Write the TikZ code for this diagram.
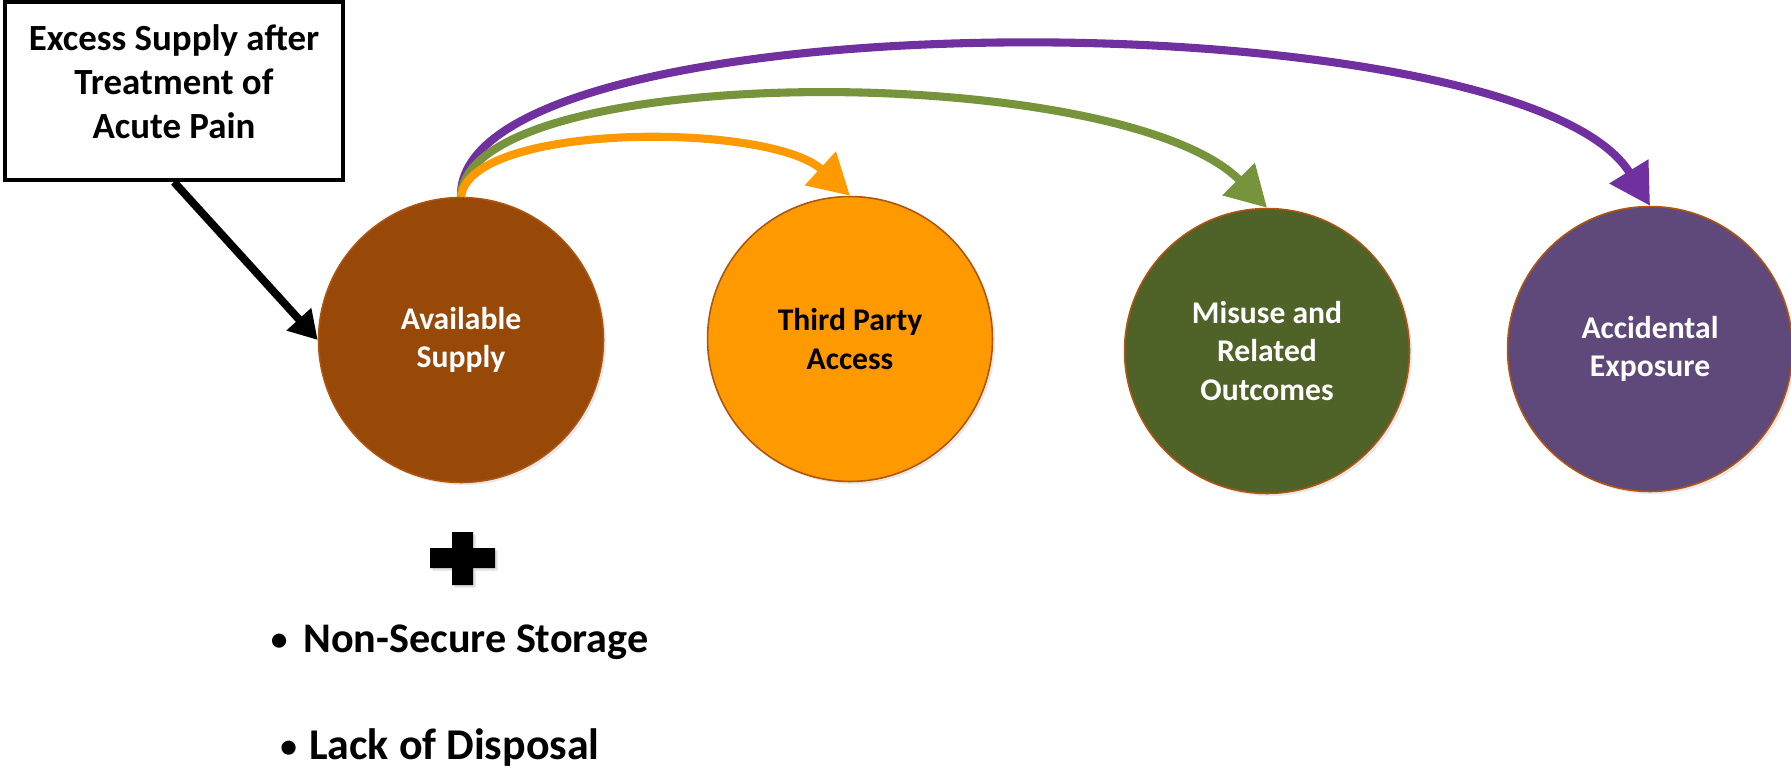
\documentclass[tikz,border=0pt]{standalone}
\usepackage{fontspec}
\setmainfont{Carlito}
\usetikzlibrary{arrows.meta,shadows}
\definecolor{cbrown}{HTML}{984807}
\definecolor{corange}{HTML}{FF9900}
\definecolor{cgreen}{HTML}{4F6228}
\definecolor{cpurple}{HTML}{5F497A}
\definecolor{crim}{RGB}{175,85,15}
\definecolor{aorange}{HTML}{FF9900}
\definecolor{agreen}{HTML}{77933C}
\definecolor{apurple}{HTML}{7030A0}
\begin{document}
\begin{tikzpicture}[x=0.02cm,y=-0.02cm,
  bubble/.style={circle, minimum size=5.7cm, inner sep=0pt, draw=crim, line width=0.9pt,
    align=center, font=\fontsize{18}{21.7}\selectfont\bfseries,
    drop shadow={opacity=0.18, shadow xshift=1.5pt, shadow yshift=-1.5pt}},
  flow/.style={line width=4.6pt, -{Triangle[length=23pt,width=25pt]},
    preaction={draw=black, opacity=0.15, transform canvas={xshift=1.2pt,yshift=-1.6pt}}},
  bullettext/.style={anchor=base west, inner sep=0pt, font=\fontsize{24}{29}\selectfont\bfseries}
]
\useasboundingbox (0,0) rectangle (1791,768);

% top-left box
\node[draw=black, line width=2.3pt, minimum width=6.78cm, minimum height=3.56cm, inner sep=0pt] (box) at (174,91) {};
\node[align=center, font=\fontsize{21}{25}\selectfont\bfseries] (boxtext) at (174,82) {Excess Supply after\\Treatment of\\Acute Pain};

% circles
\node[bubble, fill=cbrown, text=white] (avail) at (461,340) {Available\\Supply};
\node[bubble, fill=corange, text=black] (third) at (850,339) {Third Party\\Access};
\node[bubble, fill=cgreen, text=white] (misuse) at (1267,351) {Misuse and\\Related\\Outcomes};
\node[bubble, fill=cpurple, text=white] (accid) at (1650,349) {Accidental\\Exposure};

% arrows
\draw[line width=4.5pt, -{Triangle[length=16pt,width=18pt]}] (box.south) -- (avail.west);
\draw[flow, apurple] (avail.north) .. controls (455,-5) and (1520,-5) .. (accid.north);
\draw[flow, agreen] (avail.north) .. controls (465,60) and (1120,60) .. (misuse.north);
\draw[flow, aorange] (avail.north) .. controls (470,122) and (770,122) .. (third.north);

% plus sign
\fill[black, drop shadow={opacity=0.25, shadow xshift=1.5pt, shadow yshift=-1.5pt}]
  (430,548) -- (452,548) -- (452,532) -- (473,532) -- (473,548) -- (495,548) -- (495,568)
  -- (473,568) -- (473,585) -- (452,585) -- (452,568) -- (430,568) -- cycle;

% bullets
\node[bullettext] (b1) at (303,652) {\llap{\raisebox{1pt}{\fontsize{19}{20}\selectfont•}\hspace{9pt}}Non-Secure Storage};
\node[bullettext] (b2) at (309,759) {\fontsize{25}{30}\selectfont\llap{\raisebox{1pt}{\fontsize{19}{20}\selectfont•}\hspace{7pt}}Lack of Disposal};
\end{tikzpicture}
\end{document}
